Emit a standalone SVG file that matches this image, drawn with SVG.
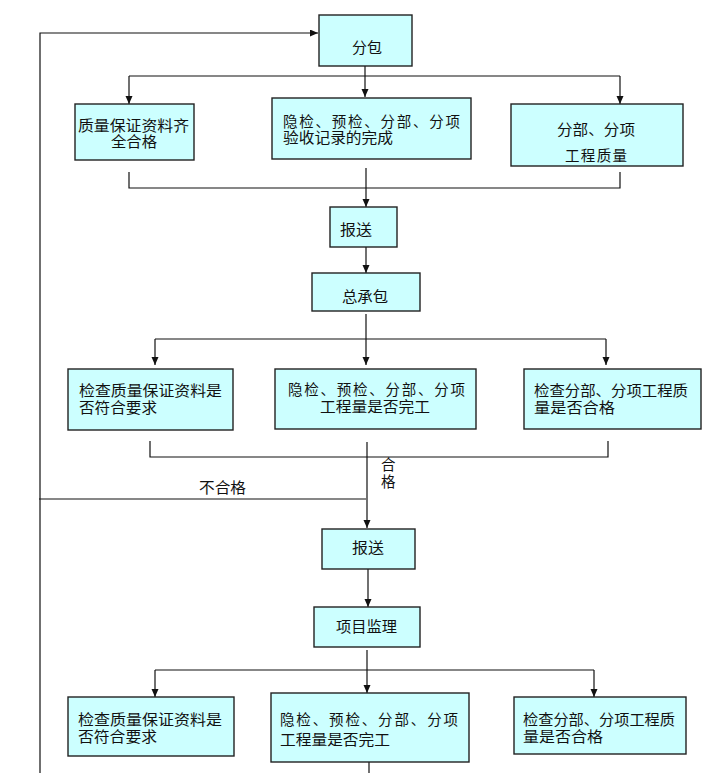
<svg xmlns="http://www.w3.org/2000/svg" width="713" height="773" viewBox="0 0 713 773">
<style>
.box{fill:#CCFFFF;stroke:#222;stroke-width:1.4}
.t{font-family:"Liberation Sans","Noto Sans CJK SC","Noto Sans CJK TC",sans-serif;font-size:14.5px;fill:#111}
.c{fill:none;stroke:#111;stroke-width:1.2}
</style>
<defs>
<marker id="ah" markerUnits="userSpaceOnUse" markerWidth="8" markerHeight="8" refX="8" refY="3.5" orient="auto">
<path d="M0,0 L8,3.5 L0,7 z" fill="#111"/>
</marker>
</defs>
<rect width="713" height="773" fill="#fff"/>
<g id="connectors">
<path class="c" d="M40,773 V33 H318" marker-end="url(#ah)"/>
<path class="c" d="M365,66 V97" marker-end="url(#ah)"/>
<path class="c" d="M129,76 H620"/>
<path class="c" d="M129,76 V104" marker-end="url(#ah)"/>
<path class="c" d="M620,76 V104" marker-end="url(#ah)"/>
<path class="c" d="M129,172 V188 H620 V172"/>
<path class="c" d="M366,168 V207" marker-end="url(#ah)"/>
<path class="c" d="M366,247 V273" marker-end="url(#ah)"/>
<path class="c" d="M366,314 V365" marker-end="url(#ah)"/>
<path class="c" d="M155,339 H606"/>
<path class="c" d="M155,339 V365" marker-end="url(#ah)"/>
<path class="c" d="M606,339 V365" marker-end="url(#ah)"/>
<path class="c" d="M150,441 V457 H608 V441"/>
<path class="c" d="M367,442 V528" marker-end="url(#ah)"/>
<path class="c" d="M366,499 H39"/>
<path class="c" d="M368,569 V607" marker-end="url(#ah)"/>
<path class="c" d="M367,650 V693" marker-end="url(#ah)"/>
<path class="c" d="M155,670 H594"/>
<path class="c" d="M155,670 V697" marker-end="url(#ah)"/>
<path class="c" d="M594,670 V697" marker-end="url(#ah)"/>
<path class="c" d="M369,762 V773"/>
<text class="t" x="381" y="470">合</text>
<text class="t" x="381" y="487">格</text>
<text class="t" x="199" y="493" font-size="15.5" textLength="47" lengthAdjust="spacingAndGlyphs">不合格</text>
</g>
<g id="n-fenbao">
<rect class="box" x="319" y="15" width="93" height="51"/>
<text class="t" x="352" y="53" font-size="15.5" textLength="30" lengthAdjust="spacingAndGlyphs">分包</text>
</g>
<g id="n-r1a">
<rect class="box" x="75" y="104" width="119" height="56"/>
<text class="t" x="78" y="130.5" textLength="111" lengthAdjust="spacingAndGlyphs">质量保证资料齐</text>
<text class="t" x="111" y="147" textLength="46" lengthAdjust="spacingAndGlyphs">全合格</text>
</g>
<g id="n-r1b">
<rect class="box" x="272" y="98" width="199" height="61"/>
<text class="t" x="283" y="126.5" textLength="177" lengthAdjust="spacing">隐检、预检、分部、分项</text>
<text class="t" x="283" y="143" textLength="110" lengthAdjust="spacingAndGlyphs">验收记录的完成</text>
</g>
<g id="n-r1c">
<rect class="box" x="511" y="104" width="172" height="62"/>
<text class="t" x="557" y="135" font-size="15.5" textLength="78" lengthAdjust="spacingAndGlyphs">分部、分项</text>
<text class="t" x="565" y="161" font-size="13.5" textLength="62" lengthAdjust="spacing">工程质量</text>
</g>
<g id="n-baosong1">
<rect class="box" x="330" y="207" width="67" height="40"/>
<text class="t" x="340" y="235" font-size="15.5" textLength="32" lengthAdjust="spacingAndGlyphs">报送</text>
</g>
<g id="n-zongchengbao">
<rect class="box" x="312" y="273" width="108" height="38"/>
<text class="t" x="342" y="302" font-size="15.5" textLength="46" lengthAdjust="spacingAndGlyphs">总承包</text>
</g>
<g id="n-r2a">
<rect class="box" x="68" y="369" width="165" height="61"/>
<text class="t" x="79" y="396" textLength="143" lengthAdjust="spacingAndGlyphs">检查质量保证资料是</text>
<text class="t" x="79" y="412.5" textLength="78" lengthAdjust="spacingAndGlyphs">否符合要求</text>
</g>
<g id="n-r2b">
<rect class="box" x="275" y="369" width="201" height="60"/>
<text class="t" x="288" y="395" textLength="177" lengthAdjust="spacing">隐检、预检、分部、分项</text>
<text class="t" x="320" y="411.5" textLength="110" lengthAdjust="spacingAndGlyphs">工程量是否完工</text>
</g>
<g id="n-r2c">
<rect class="box" x="524" y="369" width="177" height="60"/>
<text class="t" x="534" y="396" textLength="154" lengthAdjust="spacingAndGlyphs">检查分部、分项工程质</text>
<text class="t" x="534" y="412.5" textLength="81" lengthAdjust="spacingAndGlyphs">量是否合格</text>
</g>
<g id="n-baosong2">
<rect class="box" x="322" y="529" width="93" height="40"/>
<text class="t" x="352" y="553" font-size="15.5" textLength="32" lengthAdjust="spacingAndGlyphs">报送</text>
</g>
<g id="n-jianli">
<rect class="box" x="314" y="607" width="106" height="40"/>
<text class="t" x="336" y="632" font-size="15.5" textLength="61" lengthAdjust="spacingAndGlyphs">项目监理</text>
</g>
<g id="n-r3a">
<rect class="box" x="68" y="697" width="166" height="59"/>
<text class="t" x="78" y="725" textLength="144" lengthAdjust="spacingAndGlyphs">检查质量保证资料是</text>
<text class="t" x="78" y="741.5" textLength="79" lengthAdjust="spacingAndGlyphs">否符合要求</text>
</g>
<g id="n-r3b">
<rect class="box" x="271" y="693" width="198" height="69"/>
<text class="t" x="280" y="725" font-size="15.5" textLength="178" lengthAdjust="spacing">隐检、预检、分部、分项</text>
<text class="t" x="280" y="745" font-size="15.5" textLength="110" lengthAdjust="spacingAndGlyphs">工程量是否完工</text>
</g>
<g id="n-r3c">
<rect class="box" x="514" y="697" width="172" height="57"/>
<text class="t" x="523" y="725" textLength="152" lengthAdjust="spacingAndGlyphs">检查分部、分项工程质</text>
<text class="t" x="523" y="741.5" textLength="80" lengthAdjust="spacingAndGlyphs">量是否合格</text>
</g>
</svg>
